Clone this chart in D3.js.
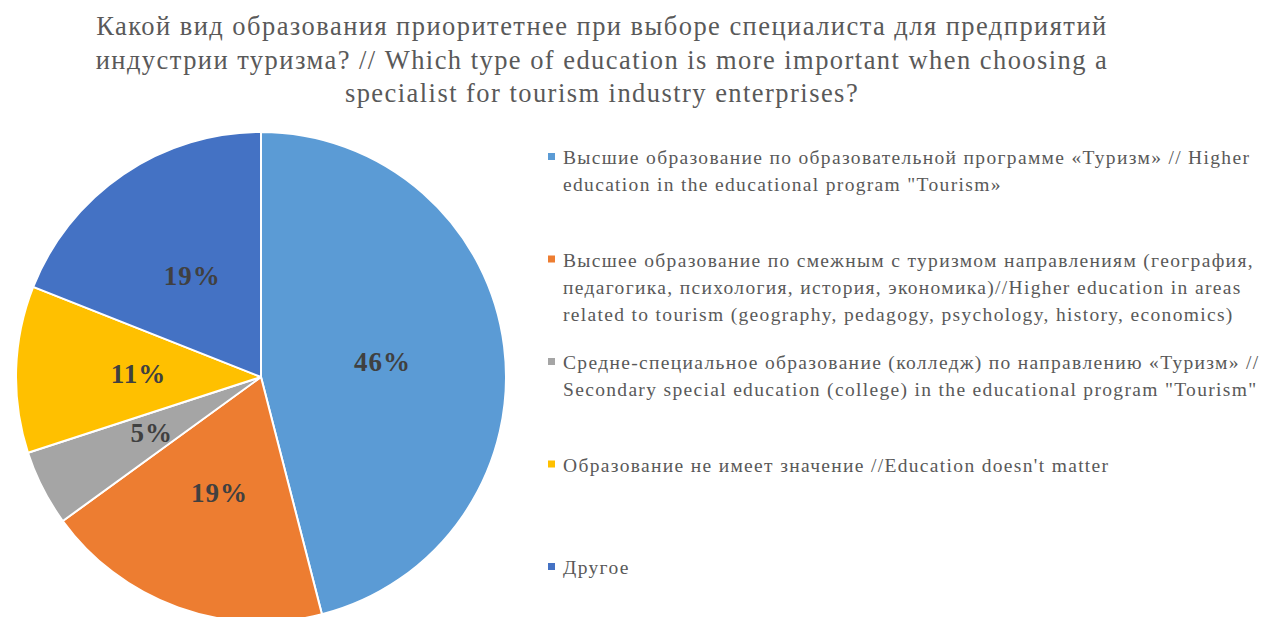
<!DOCTYPE html>
<html>
<head>
<meta charset="utf-8">
<script src="https://cdn.jsdelivr.net/npm/d3@7"></script>
<style>
  html, body { margin: 0; padding: 0; background: #fff; }
  svg { display: block; }
</style>
</head>
<body>
<svg id="chart" width="1262" height="617"></svg>
<script>
// Survey answers, in slice order (clockwise from 12 o'clock)
const categories = [
  "Высшие образование по образовательной программе «Туризм» // Higher education in the educational program \"Tourism»",
  "Высшее образование по смежным с туризмом направлениям (география, педагогика, психология, история, экономика)//Higher education in areas related to tourism (geography, pedagogy, psychology, history, economics)",
  "Средне-специальное образование (колледж) по направлению «Туризм» // Secondary special education (college) in the educational program \"Tourism\"",
  "Образование не имеет значение //Education doesn't matter",
  "Другое"
];
const values = [46, 19, 5, 11, 19];
const colors = ["#5B9BD5", "#ED7D31", "#A5A5A5", "#FFC000", "#4472C4"];

// Wrapped legend lines for each category
const legendLines = [
  ["Высшие образование по образовательной программе «Туризм» // Higher",
   "education in the educational program \"Tourism»"],
  ["Высшее образование по смежным с туризмом направлениям (география,",
   "педагогика, психология, история, экономика)//Higher education in areas",
   "related to tourism (geography, pedagogy, psychology, history, economics)"],
  ["Средне-специальное образование (колледж) по направлению «Туризм» //",
   "Secondary special education (college) in the educational program \"Tourism\""],
  ["Образование не имеет значение //Education doesn't matter"],
  ["Другое"]
];

const titleLines = [
  "Какой вид образования приоритетнее при выборе специалиста для предприятий",
  "индустрии туризма? // Which type of education is more important when choosing a",
  "specialist for tourism industry enterprises?"
];

const svg = d3.select("#chart");
const font = "'Liberation Serif', 'Times New Roman', serif";

// Title
svg.append("g")
  .selectAll("text")
  .data(titleLines)
  .join("text")
  .attr("x", 602)
  .attr("y", (d, i) => 35 + i * 33.5)
  .attr("text-anchor", "middle")
  .attr("font-family", font)
  .attr("font-size", 26.5)
  .attr("letter-spacing", 1.45)
  .attr("fill", "#595959")
  .text(d => d);

// Pie
const cx = 261, cy = 377, r = 245;
const pie = d3.pie().sort(null).value(d => d);
const arcs = pie(values);
const arc = d3.arc().innerRadius(0).outerRadius(r);

const g = svg.append("g").attr("transform", `translate(${cx},${cy})`);
g.selectAll("path")
  .data(arcs)
  .join("path")
  .attr("d", arc)
  .attr("fill", (d, i) => colors[i])
  .attr("stroke", "#fff")
  .attr("stroke-width", 2)
  .attr("stroke-linejoin", "round");

// Percentage labels at the slice centroids
g.selectAll("text")
  .data(arcs)
  .join("text")
  .attr("transform", d => `translate(${arc.centroid(d)})`)
  .attr("text-anchor", "middle")
  .attr("dy", "0.35em")
  .attr("font-family", font)
  .attr("font-weight", "bold")
  .attr("font-size", 27)
  .attr("letter-spacing", 1)
  .attr("fill", "#404040")
  .text(d => d.data + "%");

// Legend
const legend = svg.append("g").attr("transform", "translate(548,0)");
const item = legend.selectAll("g")
  .data(legendLines)
  .join("g")
  .attr("transform", (d, i) => `translate(0,${157 + i * 102.5})`);

item.append("rect")
  .attr("x", 0)
  .attr("y", -4)
  .attr("width", 7)
  .attr("height", 7)
  .attr("fill", (d, i) => colors[i]);

item.selectAll("text")
  .data(d => d)
  .join("text")
  .attr("x", 15)
  .attr("y", (d, j) => 7 + j * 27)
  .attr("font-family", font)
  .attr("font-size", 19.5)
  .attr("letter-spacing", 1.33)
  .attr("fill", "#595959")
  .text(d => d);
</script>
</body>
</html>
